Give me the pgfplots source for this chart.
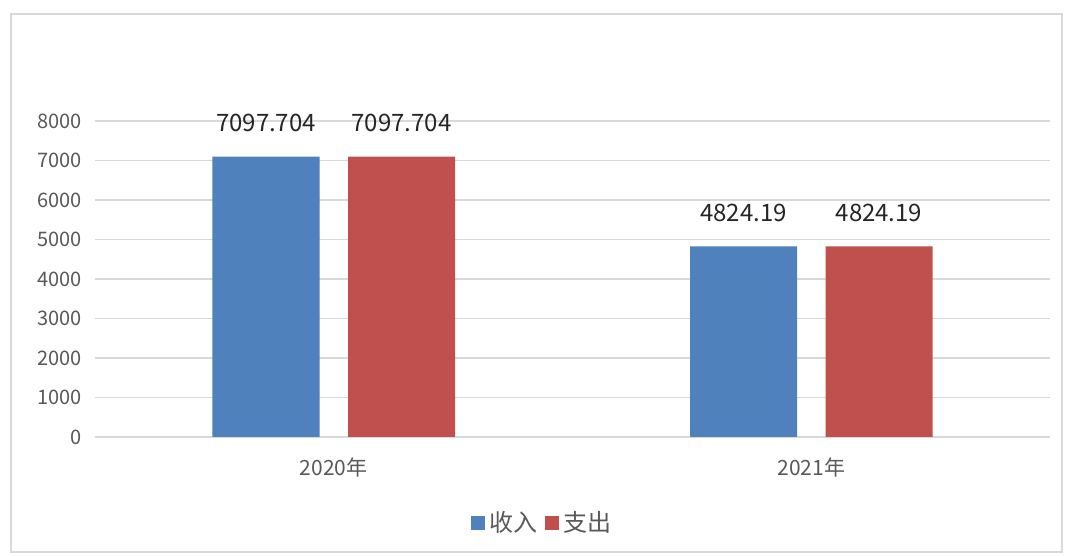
\documentclass[border=0pt]{standalone}
\usepackage{pgfplots}
\pgfplotsset{compat=1.18}
\usepackage{fontspec}
\setmainfont{Noto Sans CJK SC}
\definecolor{cblue}{HTML}{4F81BD}
\definecolor{cred}{HTML}{C0504D}
\definecolor{gridc}{HTML}{D9D9D9}
\definecolor{tickc}{HTML}{595959}
\definecolor{labc}{HTML}{262626}
\begin{document}
\begin{tikzpicture}
\useasboundingbox (-47.5pt,-59.5pt) rectangle (488pt,218.5pt);
\fill[white] (-47.5pt,-59.5pt) rectangle (488pt,218.5pt);
\draw[gridc, line width=1pt] (-42pt,-57.5pt) rectangle (483.5pt,211.5pt);
\begin{axis}[
  at={(0pt,0pt)}, anchor=south west,
  scale only axis,
  width=477.5pt, height=158pt,
  xmin=-0.5, xmax=1.5,
  ymin=0, ymax=8000,
  ytick={0,1000,...,8000},
  xtick={0,1},
  xticklabels={2020年,2021年},
  ymajorgrids,
  grid style={gridc, line width=0.8pt},
  axis line style={draw=none},
  major tick length=0pt,
  /pgf/number format/assume math mode=true,
  /pgf/number format/1000 sep={},
  yticklabel style={font=\fontsize{10}{12}\selectfont, text=tickc, xshift=-3pt},
  xticklabel style={font=\fontsize{10.5}{12}\selectfont, text=tickc, yshift=-7pt},
  ybar=14.25pt,
  bar width=53.5pt,
  nodes near coords,
  point meta=explicit symbolic,
  nodes near coords style={font=\fontsize{12}{14}\selectfont, text=labc, yshift=9pt},
  legend style={at={(224pt,-43pt)}, anchor=center, draw=none, fill=none,
    legend columns=2, font=\fontsize{12}{14}\selectfont, text=tickc,
    /tikz/every even column/.append style={column sep=2pt}},
  legend image code/.code={\fill[#1] (0pt,-3.5pt) rectangle (7pt,3.5pt);},
  clip=false,
]
\addplot[fill=cblue, draw=none] coordinates {(0,7097.704) [7097.704] (1,4824.19) [4824.19]};
\addplot[fill=cred, draw=none] coordinates {(0,7097.704) [7097.704] (1,4824.19) [4824.19]};
\legend{收入,支出}
\end{axis}
\end{tikzpicture}
\end{document}
